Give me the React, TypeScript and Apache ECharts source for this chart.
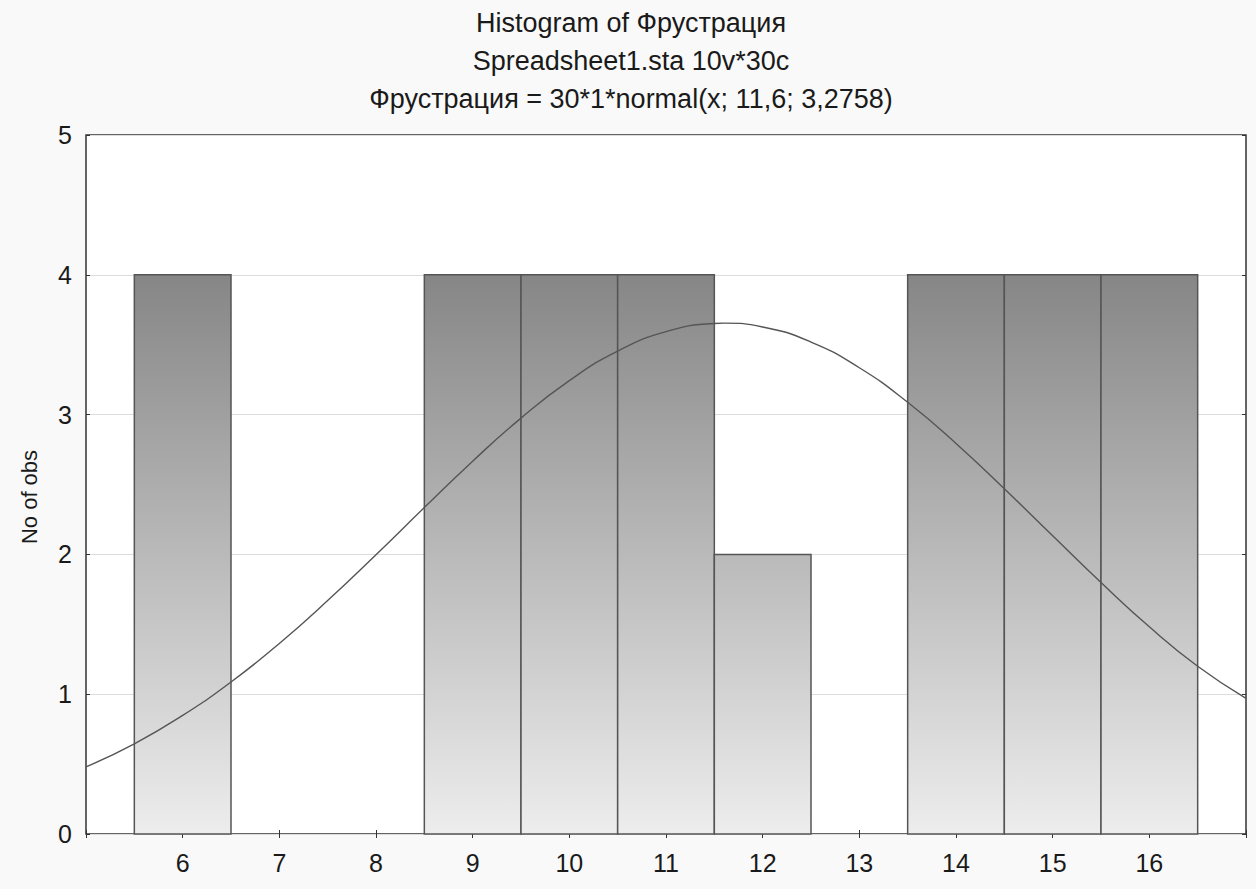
import React, { useEffect, useRef } from "react";
import * as echarts from "echarts";

const titleLines = [
  "Histogram of Фрустрация",
  "Spreadsheet1.sta 10v*30c",
  "Фрустрация = 30*1*normal(x; 11,6; 3,2758)",
];
const yAxisName = "No of obs";
const binCenters = [6, 7, 8, 9, 10, 11, 12, 13, 14, 15, 16];
const binCounts = [4, 0, 0, 4, 4, 4, 2, 0, 4, 4, 4];
const curveX = [5, 5.5, 6, 6.5, 7, 7.5, 8, 8.5, 9, 9.5, 10, 10.5, 11, 11.5, 11.6, 12, 12.5, 13, 13.5, 14, 14.5, 15, 15.5, 16, 16.5, 17];
const curveY = [0.48, 0.645, 0.848, 1.087, 1.363, 1.67, 1.998, 2.335, 2.667, 2.975, 3.243, 3.454, 3.593, 3.652, 3.654, 3.627, 3.519, 3.335, 3.088, 2.794, 2.469, 2.133, 1.799, 1.482, 1.2, 0.97];
const xMin = 5;
const xMax = 17;
const yMin = 0;
const yMax = 5;

const FONT = "'Liberation Sans', Arial, sans-serif";

export default function App() {
  const ref = useRef<HTMLDivElement>(null);

  useEffect(() => {
    if (!ref.current) return;
    const chart = echarts.init(ref.current, null, { renderer: "svg" });

    const barData = binCenters.map((c, i) => [c, binCounts[i]]);
    const curveData = curveX.map((x, i) => [x, curveY[i]]);

    const gradient = new echarts.graphic.LinearGradient(0, 275, 0, 834, [
      { offset: 0, color: "#868686" },
      { offset: 1, color: "#ededed" },
    ], true);

    const tickStyle = { show: true, inside: true, length: 4, lineStyle: { color: "#333", width: 1 } };

    chart.setOption({
      animation: false,
      backgroundColor: "#f9f9f9",
      grid: {
        left: 86,
        top: 135,
        right: 10,
        bottom: 55,
        show: true,
        backgroundColor: "#ffffff",
        borderColor: "#333",
        borderWidth: 1.5,
      },
      xAxis: [
        {
          type: "value",
          min: xMin,
          max: xMax,
          interval: 1,
          axisLine: { show: false },
          axisTick: tickStyle,
          splitLine: { show: false },
          axisLabel: {
            margin: 16,
            fontSize: 25,
            fontFamily: FONT,
            color: "#1a1a1a",
            formatter: (v: number) => (v === xMin || v === xMax ? "" : String(v)),
          },
        },
        {
          type: "value",
          position: "top",
          min: xMin,
          max: xMax,
          interval: 1,
          axisLine: { show: false },
          axisTick: tickStyle,
          splitLine: { show: false },
          axisLabel: { show: false },
        },
      ],
      yAxis: [
        {
          type: "value",
          min: yMin,
          max: yMax,
          interval: 1,
          axisLine: { show: false },
          axisTick: tickStyle,
          splitLine: { show: true, lineStyle: { color: "#dcdcdc", width: 1 } },
          axisLabel: { margin: 14, fontSize: 25, fontFamily: FONT, color: "#1a1a1a" },
        },
        {
          type: "value",
          position: "right",
          min: yMin,
          max: yMax,
          interval: 1,
          axisLine: { show: false },
          axisTick: tickStyle,
          splitLine: { show: false },
          axisLabel: { show: false },
        },
      ],
      graphic: [
        ...titleLines.map((t, i) => ({
          type: "text",
          x: 631,
          y: 23 + i * 38,
          style: {
            text: t,
            fill: "#1a1a1a",
            font: `27px ${FONT}`,
            textAlign: "center",
            textVerticalAlign: "middle",
          },
        })),
        {
          type: "text",
          x: 29,
          y: 497,
          rotation: Math.PI / 2,
          style: {
            text: yAxisName,
            fill: "#1a1a1a",
            font: `22px ${FONT}`,
            textAlign: "center",
            textVerticalAlign: "middle",
          },
        },
      ],
      series: [
        {
          type: "custom",
          xAxisIndex: 0,
          yAxisIndex: 0,
          data: barData,
          z: 2,
          renderItem: (params: any, api: any) => {
            const c = api.value(0);
            const v = api.value(1);
            if (!v) return null;
            const p0 = api.coord([c - 0.5, v]);
            const p1 = api.coord([c + 0.5, 0]);
            return {
              type: "rect",
              shape: { x: p0[0], y: p0[1], width: p1[0] - p0[0], height: p1[1] - p0[1] },
              style: { fill: gradient, stroke: "#555", lineWidth: 1.5 },
            };
          },
        },
        {
          type: "line",
          xAxisIndex: 0,
          yAxisIndex: 0,
          data: curveData,
          smooth: true,
          showSymbol: false,
          symbol: "none",
          z: 3,
          lineStyle: { color: "#555", width: 1.4 },
        },
      ],
    });

    return () => chart.dispose();
  }, []);

  return (
    <div
      ref={ref}
      style={{ position: "fixed", left: 0, top: 0, width: 1256, height: 889 }}
    />
  );
}
